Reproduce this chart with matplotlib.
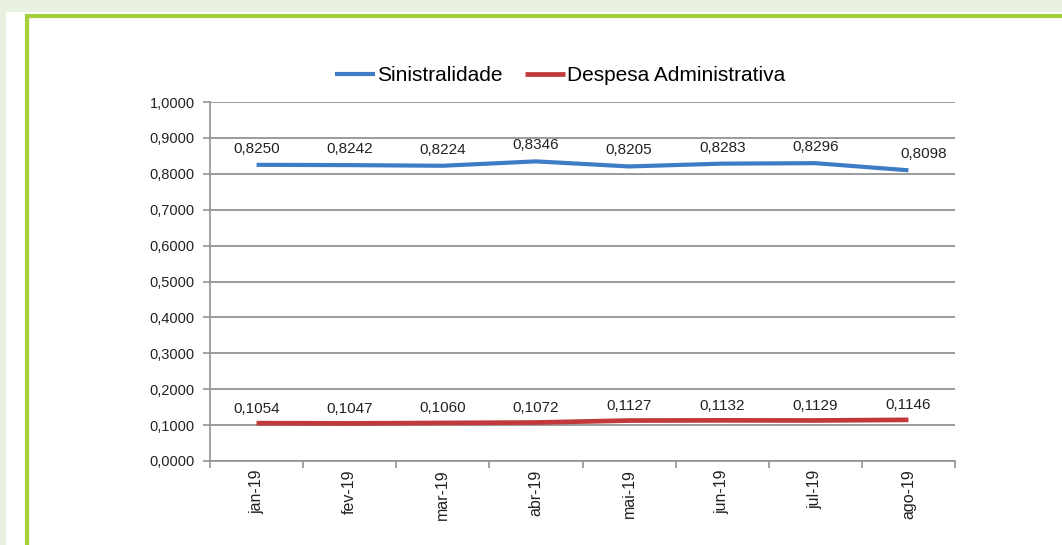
import matplotlib
matplotlib.use("Agg")
import matplotlib.pyplot as plt
from matplotlib.patches import Rectangle
from matplotlib.lines import Line2D

months = ["jan-19", "fev-19", "mar-19", "abr-19", "mai-19", "jun-19", "jul-19", "ago-19"]
sinistralidade = [0.8250, 0.8242, 0.8224, 0.8346, 0.8205, 0.8283, 0.8296, 0.8098]
despesa = [0.1054, 0.1047, 0.1060, 0.1072, 0.1127, 0.1132, 0.1129, 0.1146]
yticks = [0.0, 0.1, 0.2, 0.3, 0.4, 0.5, 0.6, 0.7, 0.8, 0.9, 1.0]

plt.rcParams['font.family'] = ['Liberation Sans', 'DejaVu Sans']

W, H = 1062, 545
fig = plt.figure(figsize=(W / 100, H / 100), dpi=100, facecolor="#e9f1e1")

# white panel and green border
fig.add_artist(Rectangle((6 / W, 0), 1, 1 - 12 / H, transform=fig.transFigure,
                         facecolor="white", edgecolor="none", zorder=-2))
fig.add_artist(Line2D([26.5 / W, 26.5 / W], [0, 1 - 14 / H], transform=fig.transFigure,
                      color="#a6cf3c", lw=3, solid_capstyle="butt", zorder=-1))
fig.add_artist(Line2D([25 / W, 1.0], [1 - 15.5 / H, 1 - 15.5 / H], transform=fig.transFigure,
                      color="#a6cf3c", lw=3, solid_capstyle="butt", zorder=-1))

ax = fig.add_axes([210 / W, 1 - 461 / H, 745 / W, 359 / H])
ax.set_zorder(1)
ax.set_facecolor("white")
x = list(range(len(months)))

blue = "#3e7cc6"
red = "#c2393c"
ax.plot(x, sinistralidade, color=blue, lw=3.0, solid_capstyle="butt", label="Sinistralidade", zorder=3)
ax.plot(x, despesa, color=red, lw=3.4, solid_capstyle="butt", label="Despesa Administrativa", zorder=3)

for i, v in enumerate(sinistralidade):
    dx = 11 if i == len(months) - 1 else 0
    ax.annotate(f"{v:.4f}".replace(".", ","), (i, v), xytext=(dx, 6.5), textcoords="offset points",
                ha="center", va="bottom", fontsize=11, color="#222222")
for i, v in enumerate(despesa):
    ax.annotate(f"{v:.4f}".replace(".", ","), (i, v), xytext=(0, 5.5), textcoords="offset points",
                ha="center", va="bottom", fontsize=11, color="#222222")

ax.set_xlim(-0.5, len(months) - 0.5)
ax.set_ylim(0, 1.0)
ax.set_yticks(yticks)
ax.set_yticklabels([f"{t:.4f}".replace(".", ",") for t in yticks], fontsize=10.5, color="#222222")
ax.yaxis.grid(True, color="#939393", lw=1.3)
ax.set_axisbelow(True)

ax.set_xticks(x)
ax.set_xticklabels(months, rotation=90, fontsize=11.5, color="#222222")
ax.tick_params(axis="x", length=0, pad=6)
ax.set_xticks([i - 0.5 for i in range(len(months) + 1)], minor=True)
ax.tick_params(axis="x", which="minor", length=5, color="#939393", width=1.2)
ax.tick_params(axis="y", length=5, color="#939393", width=1.2, pad=6)

for s in ["top", "right"]:
    ax.spines[s].set_visible(False)
ax.spines["left"].set_color("#939393")
ax.spines["bottom"].set_color("#939393")
ax.spines["left"].set_linewidth(1.2)
ax.spines["bottom"].set_linewidth(1.2)

leg = ax.legend(loc="lower center", bbox_to_anchor=(0.47, 0.995), ncol=2, frameon=False,
                fontsize=15, handlelength=1.9, handletextpad=0.1, columnspacing=1.1)

fig.savefig("out.png", dpi=100, facecolor=fig.get_facecolor())
